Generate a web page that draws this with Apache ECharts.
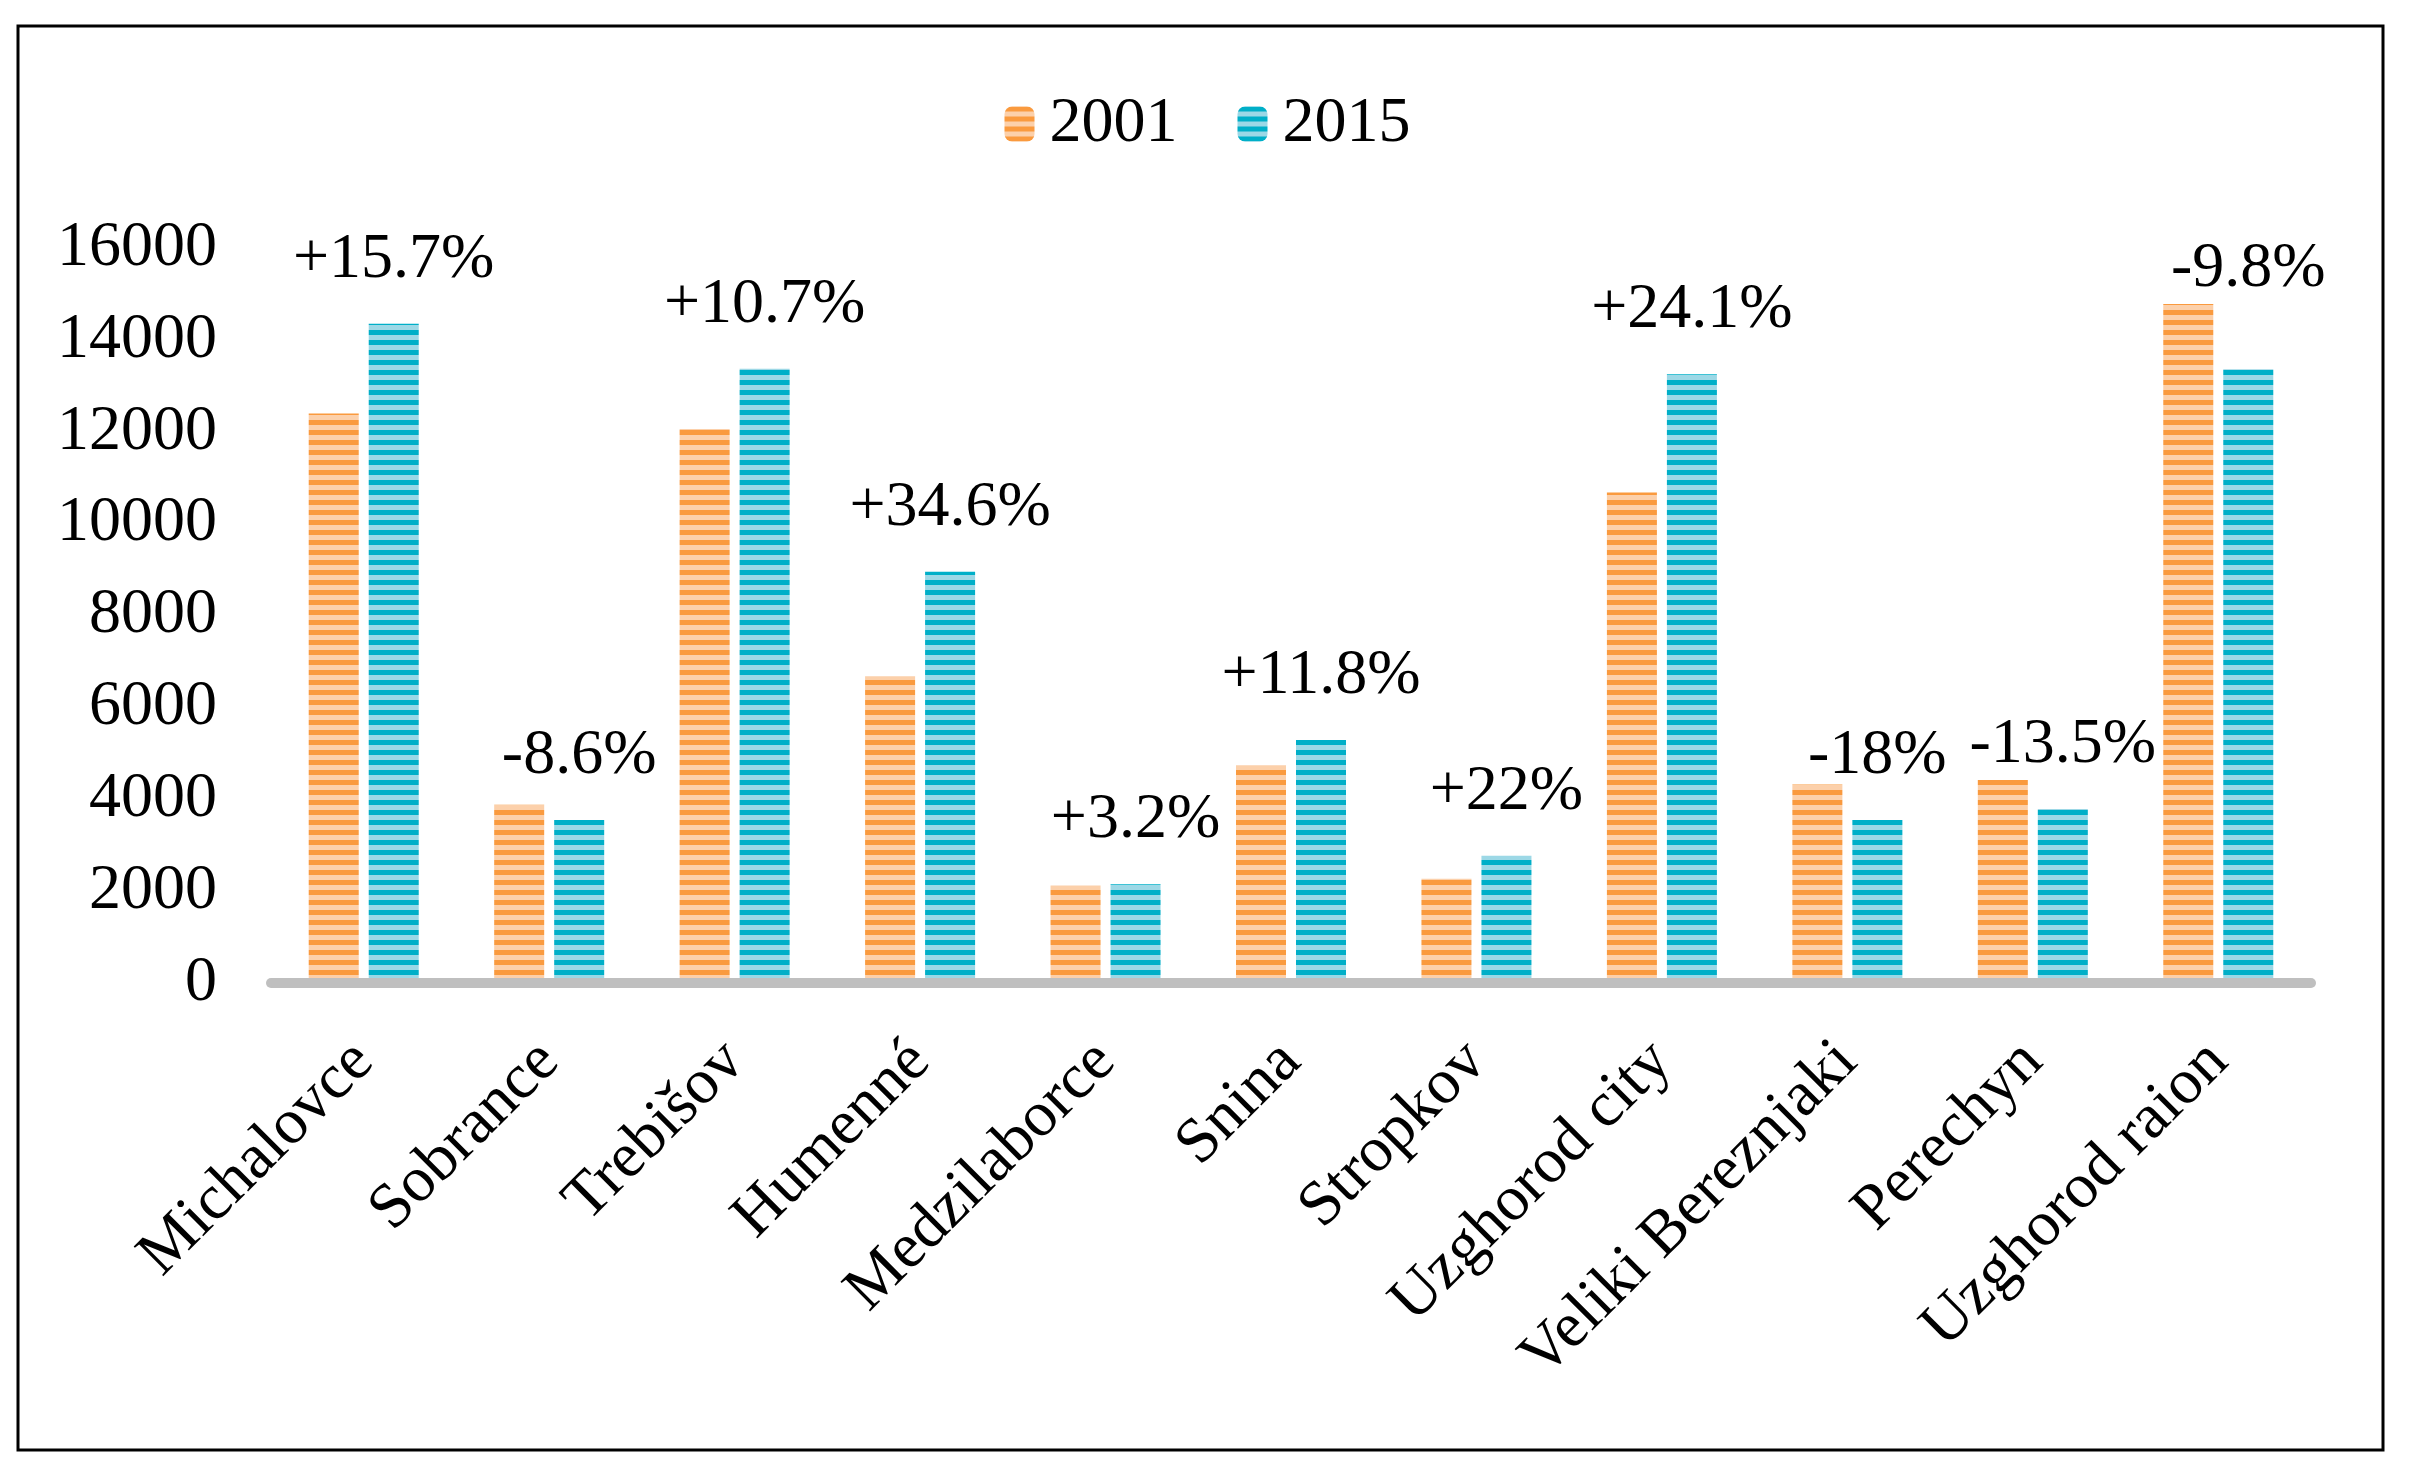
<!DOCTYPE html>
<html>
<head>
<meta charset="utf-8">
<script src="https://cdn.jsdelivr.net/npm/echarts@6/dist/echarts.min.js"></script>
<style>
html,body{margin:0;padding:0;background:#fff;}
#chart{width:2415px;height:1484px;}
</style>
</head>
<body>
<div id="chart"></div>
<script>
const categories = ["Michalovce", "Sobrance", "Trebišov", "Humenné", "Medzilaborce", "Snina", "Stropkov", "Uzghorod city", "Veliki Bereznjaki", "Perechyn", "Uzghorod raion"];
const values2001 = [12400, 3880, 12060, 6680, 2120, 4740, 2270, 10680, 4320, 4420, 14780];
const values2015 = [14350, 3550, 13370, 8950, 2150, 5290, 2770, 13250, 3550, 3790, 13360];
const changeLabels = ["+15.7%", "-8.6%", "+10.7%", "+34.6%", "+3.2%", "+11.8%", "+22%", "+24.1%", "-18%", "-13.5%", "-9.8%"];
const seriesNames = ["2001", "2015"];
const yTicks = [0, 2000, 4000, 6000, 8000, 10000, 12000, 14000, 16000];

function stripe(dark, light) {
  const c = document.createElement('canvas');
  c.width = 10; c.height = 10;
  const g = c.getContext('2d');
  g.fillStyle = dark; g.fillRect(0, 0, 10, 10);
  g.fillStyle = light; g.fillRect(0, 5, 10, 5);
  return { image: c, repeat: 'repeat' };
}
const orangeFill = stripe('#FA9A3E', '#FCD0AA');
const blueFill = stripe('#00AFC8', '#9CD8E6');

const FONT = '"Liberation Serif", "Times New Roman", serif';

const chart = echarts.init(document.getElementById('chart'), null, { renderer: 'canvas' });
chart.setOption({
  animation: false,
  backgroundColor: '#fff',
  graphic: [{
    type: 'rect',
    shape: { x: 18, y: 26, width: 2365, height: 1424 },
    style: { fill: 'none', stroke: '#000', lineWidth: 3 },
    z: 100
  }],
  legend: {
    top: 87,
    left: 'center',
    itemWidth: 30,
    itemHeight: 35,
    itemGap: 60,
    data: seriesNames,
    textStyle: { fontFamily: FONT, fontSize: 64, color: '#000', padding: [0, 0, 0, 10] }
  },
  grid: { left: 271, right: 104, top: 248, bottom: 501, containLabel: false },
  xAxis: {
    type: 'category',
    data: categories,
    z: 10,
    axisLine: { lineStyle: { color: '#BFBFBF', width: 10 } },
    axisTick: { show: false },
    axisLabel: {
      interval: 0,
      rotate: 45,
      margin: 69,
      padding: [22, 0, 0, 0],
      fontFamily: FONT,
      fontSize: 64,
      color: '#000'
    }
  },
  yAxis: {
    type: 'value',
    min: yTicks[0],
    max: yTicks[yTicks.length - 1],
    interval: 2000,
    axisLine: { show: false },
    axisTick: { show: false },
    splitLine: { show: false },
    axisLabel: {
      margin: 54, fontFamily: FONT, fontSize: 64, color: '#000',
      formatter: v => String(v)
    }
  },
  series: [
    {
      name: seriesNames[0],
      type: 'bar',
      data: values2001,
      barWidth: 50,
      barGap: '20%',
      itemStyle: { color: orangeFill }
    },
    {
      name: seriesNames[1],
      type: 'bar',
      data: values2015.map((v, i) => {
        const item = { value: v };
        if (values2001[i] - v > 1000) {
          item.label = { distance: 32 + (values2001[i] - v) * 0.046 * 0.55 };
        }
        return item;
      }),
      barWidth: 50,
      barGap: '20%',
      itemStyle: { color: blueFill },
      label: {
        show: true,
        position: 'top',
        distance: 32,
        fontFamily: FONT,
        fontSize: 64,
        color: '#000',
        formatter: p => changeLabels[p.dataIndex]
      }
    }
  ]
});
</script>
</body>
</html>
